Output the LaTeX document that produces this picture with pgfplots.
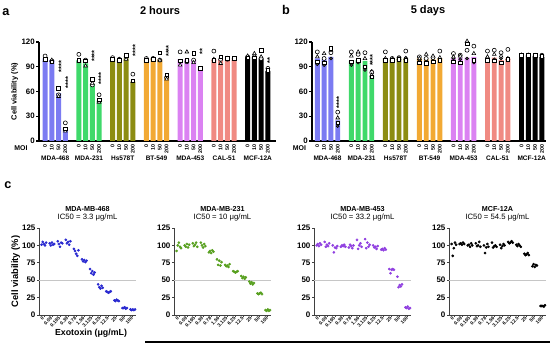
\documentclass[border=0pt]{standalone}
\usepackage{fontspec}
\setmainfont{Liberation Sans}
\usepackage{pgfplots}
\pgfplotsset{compat=1.18}

\definecolor{cA}{HTML}{7B7BF2}
\definecolor{cB}{HTML}{3FD96A}
\definecolor{cC}{HTML}{8C8C12}
\definecolor{cD}{HTML}{F2A934}
\definecolor{cE}{HTML}{DB82F2}
\definecolor{cF}{HTML}{F08A82}
\definecolor{cG}{HTML}{000000}
\definecolor{p1}{HTML}{2A2AD0}
\definecolor{p2}{HTML}{58A020}
\definecolor{p3}{HTML}{9040E0}
\definecolor{p4}{HTML}{000000}

\newcommand{\fs}[1]{\fontsize{#1}{#1}\selectfont}

\tikzset{
  stars/.style={rotate=90, font=\bfseries\fs{5.6}, inner sep=0pt},
  gname/.style={font=\bfseries\fs{4.9}, yshift=-12.75pt},
}

\pgfplotsset{
  barax/.style={
    scale only axis, height=74.25pt, ymin=0, ymax=120, ytick={0,30,60,90,120},
    axis lines*=left, clip=false,
    axis line style={line width=0.9pt},
    xtick={0,1,2,3,5,6,7,8,10,11,12,13,15,16,17,18,20,21,22,23,25,26,27,28,30,31,32,33},
    xticklabels={0,10,50,200,0,10,50,200,0,10,50,200,0,10,50,200,0,10,50,200,0,10,50,200,0,10,50,200},
    xticklabel style={rotate=90, anchor=east, font=\bfseries\fs{4}, inner sep=0.8pt},
    yticklabel style={font=\bfseries\fs{5.9}, inner sep=1pt},
    x tick style={draw=none}, y tick style={line width=0.8pt, black},
    major tick length=2pt, tick align=outside,
    /pgf/number format/assume math mode=true,
  },
  mybar/.style={ybar, bar width=0.72, bar shift=0pt, fill=#1, draw=none},
  mo/.style={only marks, mark=*, mark size=1.5pt, mark options={black, fill=white, line width=0.45pt}},
  mt/.style={only marks, mark=triangle*, mark size=1.6pt, mark options={black, fill=white, line width=0.45pt}},
  ms/.style={only marks, mark=square*, mark size=1.35pt, mark options={black, fill=white, line width=0.45pt}},
  mf/.style={only marks, mark=*, mark size=1.1pt, mark options={black, fill=black!70}},
  cax/.style={
    scale only axis, width=72.75pt, height=65.25pt, ymin=0, ymax=125,
    ytick={0,25,50,75,100,125}, xmin=-0.6, xmax=11.4, xtick={0,...,11},
    xticklabels={0,0.09,0.195,0.39,0.78,1.56,3.125,6.25,12.5,25,50,100},
    xticklabel style={rotate=45, anchor=east, font=\bfseries\fs{3.6}, inner sep=0.5pt},
    yticklabel style={font=\bfseries\fs{6}, inner sep=1pt},
    axis lines*=left, clip=false,
    axis line style={line width=0.6pt, black!75},
    tick style={line width=0.5pt, black!75}, major tick length=1.5pt, tick align=outside,
    /pgf/number format/assume math mode=true,
  },
  cdot/.style={only marks, mark=*, mark size=0.8pt, color=#1},
  fifty/.style={gray!45, line width=0.5pt},
}

\begin{document}
\begin{tikzpicture}
\path[use as bounding box] (0,0) rectangle (412.5pt,261.75pt);

% ---------------- panel a ----------------
\begin{axis}[barax, at={(29.25pt,156pt)}, anchor=south west, width=177.75pt,
  xmin=-0.9, xmax=34.2,
  ylabel={Cell viability (\%)}, ylabel style={font=\bfseries\fs{5.6}, yshift=-2pt}]
\addplot[mybar=cA] coordinates {(0,100) (1,98) (2,58) (3,16)};
\addplot[mybar=cB] coordinates {(5,98) (6,94) (7,69) (8,49)};
\addplot[mybar=cC] coordinates {(10,99) (11,99) (12,100) (13,72)};
\addplot[mybar=cD] coordinates {(15,99) (16,100) (17,99) (18,78)};
\addplot[mybar=cE] coordinates {(20,99) (21,99) (22,99) (23,88)};
\addplot[mybar=cF] coordinates {(25,99) (26,99) (27,99) (28,99)};
\addplot[mybar=cG] coordinates {(30,102) (31,102) (32,100) (33,85)};
\addplot[mo] coordinates {(0,103) (1,97) (2,56) (3,22) (5,105) (6,98) (7,68) (8,56) (10,101) (11,99) (12,102) (13,81) (15,100) (16,100) (17,98) (18,77) (20,108) (21,96) (22,98) (23,88) (25,109) (26,99) (27,99) (28,100) (30,102) (31,102) (32,100) (33,88)};
\addplot[mt] coordinates {(0,98) (1,98) (2,54) (3,12) (5,97) (6,91) (7,70) (8,47) (10,98) (11,99) (12,99) (13,72) (15,98) (16,100) (17,98) (18,75) (20,92) (21,108) (22,95) (23,87) (25,99) (26,94) (27,100) (28,99) (30,103) (31,106) (32,102) (33,84)};
\addplot[ms] coordinates {(0,99) (1,96) (2,64) (3,15) (5,98) (6,97) (7,75) (8,50) (10,99) (11,98) (12,104) (13,73) (15,98) (16,99) (17,107) (18,80) (20,97) (21,98) (22,106) (23,88) (25,98) (26,102) (27,100) (28,100) (30,101) (31,101) (32,110) (33,86)};
\node[stars] at (axis cs:2.4,90) {****};
\node[stars] at (axis cs:3.4,71) {****};
\node[stars] at (axis cs:7.3,103) {****};
\node[stars] at (axis cs:8.3,76) {****};
\node[stars] at (axis cs:13.35,110) {****};
\node[stars] at (axis cs:18.3,109) {****};
\node[stars] at (axis cs:23.3,108) {**};
\node[stars] at (axis cs:33.3,98) {**};
\node[gname] at (axis cs:1.5,0) {MDA-468};
\node[gname] at (axis cs:6.5,0) {MDA-231};
\node[gname] at (axis cs:11.5,0) {Hs578T};
\node[gname] at (axis cs:16.5,0) {BT-549};
\node[gname] at (axis cs:21.5,0) {MDA-453};
\node[gname] at (axis cs:26.5,0) {CAL-51};
\node[gname] at (axis cs:31.5,0) {MCF-12A};
\end{axis}

% ---------------- panel b ----------------
\begin{axis}[barax, at={(234pt,156pt)}, anchor=south west, width=175.5pt,
  xmin=-0.78, xmax=33.6]
\addplot[mybar=cA] coordinates {(0,100) (1,99) (2,102) (3,25)};
\addplot[mybar=cB] coordinates {(5,97) (6,98) (7,97) (8,79)};
\addplot[mybar=cC] coordinates {(10,100) (11,99) (12,100) (13,100)};
\addplot[mybar=cD] coordinates {(15,100) (16,99) (17,99) (18,100)};
\addplot[mybar=cE] coordinates {(20,100) (21,101) (22,101) (23,102)};
\addplot[mybar=cF] coordinates {(25,100) (26,101) (27,98) (28,100)};
\addplot[mybar=cG] coordinates {(30,104) (31,104) (32,103) (33,102)};
\addplot[mf] coordinates {(0,93) (1,92) (2,100) (3,18) (5,92) (6,95) (7,86) (8,85) (10,97) (11,100) (12,101) (13,101) (15,98) (16,97) (17,100) (18,100) (20,100) (21,99) (22,100) (23,95) (25,101) (26,99) (27,100) (28,98) (30,104) (31,104) (32,103) (33,102)};
\addplot[mo] coordinates {(0,108) (1,100) (2,107) (3,35) (5,108) (6,105) (7,107) (8,83) (10,108) (11,100) (12,101) (13,109) (15,102) (16,100) (17,101) (18,109) (20,106) (21,104) (22,110) (23,115) (25,109) (26,110) (27,107) (28,111) (30,104) (31,104) (32,104) (33,104)};
\addplot[mt] coordinates {(0,102) (1,106) (2,110) (3,28) (5,103) (6,108) (7,100) (8,80) (10,100) (11,99) (12,100) (13,100) (15,100) (16,105) (17,103) (18,101) (20,102) (21,103) (22,121) (23,106) (25,102) (26,105) (27,103) (28,100) (30,104) (31,104) (32,103) (33,103)};
\addplot[ms] coordinates {(0,96) (1,95) (2,112) (3,22) (5,96) (6,98) (7,90) (8,78) (10,98) (11,98) (12,99) (13,98) (15,95) (16,94) (17,96) (18,98) (20,96) (21,95) (22,118) (23,98) (25,98) (26,97) (27,95) (28,99) (30,104) (31,104) (32,104) (33,103)};
\node[stars] at (axis cs:3.2,47) {****};
\node[stars] at (axis cs:8.1,98) {****};
\node[gname] at (axis cs:1.5,0) {MDA-468};
\node[gname] at (axis cs:6.5,0) {MDA-231};
\node[gname] at (axis cs:11.5,0) {Hs578T};
\node[gname] at (axis cs:16.5,0) {BT-549};
\node[gname] at (axis cs:21.5,0) {MDA-453};
\node[gname] at (axis cs:26.5,0) {CAL-51};
\node[gname] at (axis cs:31.5,0) {MCF-12A};
\end{axis}

% ---------------- panel c ----------------
\begin{axis}[cax, at={(29.25pt,25.5pt)}, anchor=south west,
  ylabel={Cell viability (\%)}, ylabel style={font=\bfseries\fs{7}, yshift=-3pt}]
\addplot[fifty] coordinates {(-0.6,50) (11.4,50)};
\addplot[cdot=p1] coordinates {(-0.28,101) (-0.14,105) (0,102) (0.14,100) (0.28,104) (0.72,103) (0.86,100) (1,104) (1.14,101) (1.28,102) (1.72,106) (1.86,102) (2,98) (2.14,104) (2.28,103) (2.72,108) (2.86,103) (3,105) (3.14,101) (3.28,106) (3.72,95) (3.86,92) (4,88) (4.14,85) (4.28,93) (4.72,80) (4.86,77) (5,79) (5.14,76) (5.28,78) (5.72,66) (5.86,60) (6,63) (6.14,58) (6.28,61) (6.72,44) (6.86,40) (7,38) (7.14,42) (7.28,39) (7.72,34) (7.86,33) (8,32) (8.14,33) (8.28,34) (8.72,21) (8.86,20) (9,22) (9.14,21) (9.28,20) (9.72,10) (9.86,10) (10,11) (10.14,9) (10.28,10) (10.72,8) (10.86,7) (11,8) (11.14,7) (11.28,8)};
\node[font=\bfseries\fs{5.4}, anchor=south] at (rel axis cs:0.5,1) [yshift=9pt] {MDA-MB-468};
\node[font=\fs{5.8}, anchor=south] at (rel axis cs:0.5,1) [yshift=1.5pt] {IC50 = 3.3 μg/mL};
\end{axis}

\begin{axis}[cax, at={(130.5pt,25.5pt)}, anchor=south west]
\addplot[fifty] coordinates {(-0.6,50) (11.4,50)};
\addplot[cdot=p2] coordinates {(-0.28,92) (-0.14,100) (0,104) (0.14,98) (0.28,96) (0.72,100) (0.86,98) (1,102) (1.14,97) (1.28,101) (1.72,103) (1.86,99) (2,101) (2.14,104) (2.28,98) (2.72,104) (2.86,100) (3,97) (3.14,102) (3.28,99) (3.72,90) (3.86,92) (4,89) (4.14,93) (4.28,91) (4.72,80) (4.86,72) (5,78) (5.14,71) (5.28,76) (5.72,72) (5.86,70) (6,71) (6.14,69) (6.28,73) (6.72,63) (6.86,62) (7,61) (7.14,62) (7.28,63) (7.72,56) (7.86,53) (8,55) (8.14,52) (8.28,54) (8.72,48) (8.86,45) (9,47) (9.14,44) (9.28,46) (9.72,31) (9.86,30) (10,31) (10.14,32) (10.28,30) (10.72,7) (10.86,6) (11,8) (11.14,6) (11.28,7)};
\node[font=\bfseries\fs{5.4}, anchor=south] at (rel axis cs:0.5,1) [yshift=9pt] {MDA-MB-231};
\node[font=\fs{5.8}, anchor=south] at (rel axis cs:0.5,1) [yshift=1.5pt] {IC50 = 10 μg/mL};
\end{axis}

\begin{axis}[cax, at={(235.5pt,25.5pt)}, anchor=south west]
\addplot[fifty] coordinates {(-0.6,50) (11.4,50)};
\addplot[cdot=p3] coordinates {(-0.28,100) (-0.14,102) (0,99) (0.14,103) (0.28,101) (0.72,105) (0.86,98) (1,101) (1.14,99) (1.28,103) (1.72,100) (1.86,90) (2,97) (2.14,96) (2.28,99) (2.72,98) (2.86,100) (3,99) (3.14,101) (3.28,98) (3.72,97) (3.86,101) (4,99) (4.14,96) (4.28,100) (4.72,108) (4.86,95) (5,100) (5.14,103) (5.28,98) (5.72,109) (5.86,96) (6,104) (6.14,98) (6.28,101) (6.72,100) (6.86,97) (7,98) (7.14,95) (7.28,99) (7.72,94) (7.86,95) (8,93) (8.14,96) (8.28,94) (8.72,66) (8.86,60) (9,65) (9.14,66) (9.28,65) (9.72,55) (9.86,40) (10,43) (10.14,41) (10.28,44) (10.72,11) (10.86,10) (11,12) (11.14,9) (11.28,10)};
\node[font=\bfseries\fs{5.4}, anchor=south] at (rel axis cs:0.5,1) [yshift=9pt] {MDA-MB-453};
\node[font=\fs{5.8}, anchor=south] at (rel axis cs:0.5,1) [yshift=1.5pt] {IC50 = 33.2 μg/mL};
\end{axis}

\begin{axis}[cax, at={(336.75pt,25.5pt)}, anchor=south west]
\addplot[fifty] coordinates {(-0.6,50) (11.4,50)};
\addplot[cdot=p4] coordinates {(-0.28,102) (-0.14,85) (0,96) (0.14,104) (0.28,101) (0.72,102) (0.86,103) (1,101) (1.14,104) (1.28,102) (1.72,100) (1.86,101) (2,98) (2.14,103) (2.28,100) (2.72,103) (2.86,99) (3,100) (3.14,105) (3.28,98) (3.72,100) (3.86,89) (4,97) (4.14,102) (4.28,98) (4.72,104) (4.86,97) (5,99) (5.14,100) (5.28,98) (5.72,101) (5.86,96) (6,99) (6.14,102) (6.28,100) (6.72,105) (6.86,103) (7,104) (7.14,106) (7.28,104) (7.72,101) (7.86,99) (8,102) (8.14,100) (8.28,98) (8.72,88) (8.86,86) (9,87) (9.14,89) (9.28,86) (9.72,70) (9.86,73) (10,69) (10.14,72) (10.28,71) (10.72,13) (10.86,13) (11,13) (11.14,12) (11.28,14)};
\node[font=\bfseries\fs{5.4}, anchor=south] at (rel axis cs:0.5,1) [yshift=9pt] {MCF-12A};
\node[font=\fs{5.8}, anchor=south] at (rel axis cs:0.5,1) [yshift=1.5pt] {IC50 = 54.5 μg/mL};
\end{axis}

% ---------------- free texts ----------------
\node[font=\bfseries\fs{9.5}] at (4.5pt,252.75pt) {a};
\node[font=\bfseries\fs{9.5}] at (214.5pt,254.25pt) {b};
\node[font=\bfseries\fs{9.5}] at (6pt,123pt) {c};
\node[font=\bfseries\fs{8.3}] at (120pt,253.5pt) {2 hours};
\node[font=\bfseries\fs{8.3}] at (321pt,253.5pt) {5 days};
\node[font=\bfseries\fs{5.2}] at (15.75pt,150.75pt) {MOI};
\node[font=\bfseries\fs{5.2}] at (224.6pt,150.75pt) {MOI};
\node[font=\bfseries\fs{6.6}] at (68.25pt,12pt) {Exotoxin (μg/mL)};
\draw[line width=0.8pt] (108.75pt,5.25pt) -- (412.5pt,5.25pt);
\end{tikzpicture}
\end{document}
